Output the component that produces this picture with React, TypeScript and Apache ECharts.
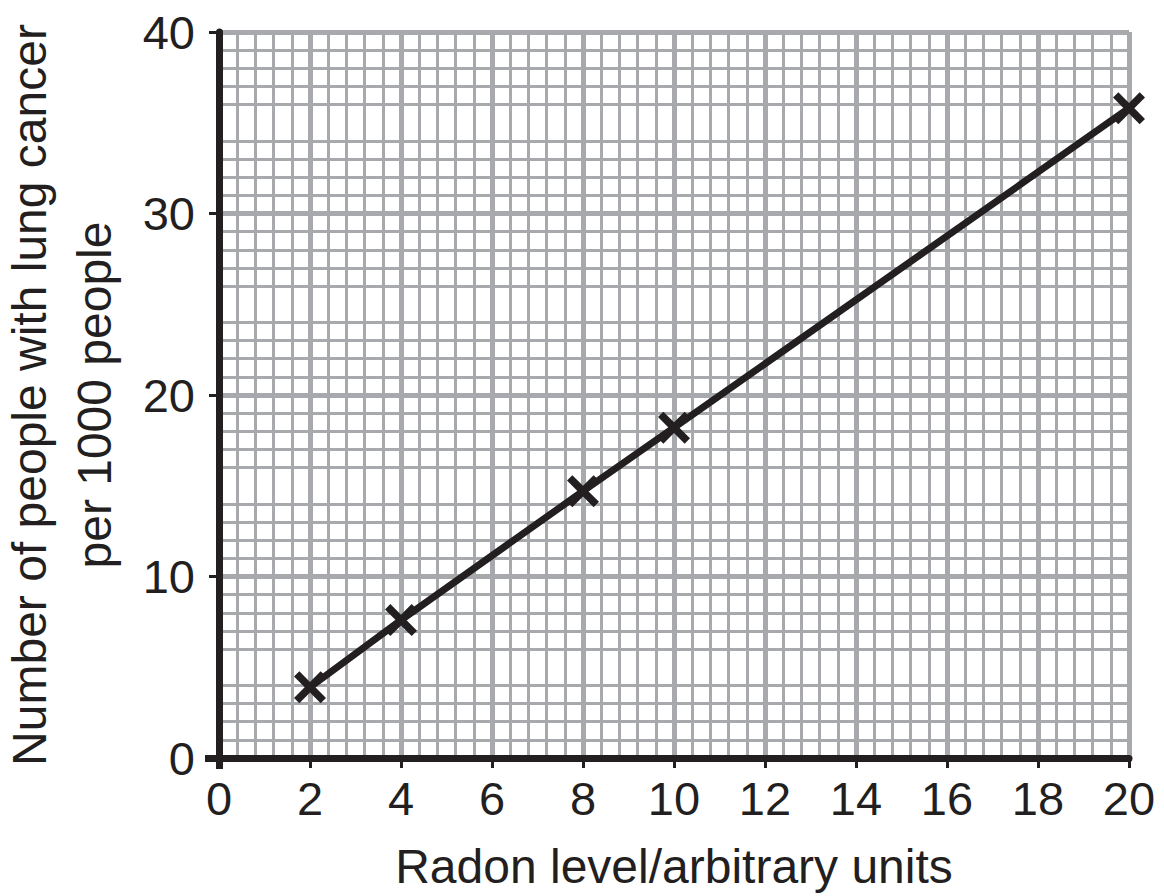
import React, { useEffect, useRef } from "react";
import * as echarts from "echarts";

const radonLevels = [2, 4, 8, 10, 20];
const lungCancerCases = [3.9, 7.6, 14.7, 18.2, 35.8];
const yTickLabels = [0, 10, 20, 30, 40];
const xTitle = "Radon level/arbitrary units";
const yTitle = "Number of people with lung cancer\nper 1000 people";

const INK = "#231f20";
const GRAY = "#a7a9ac";
const FONT = "'Liberation Sans', Arial, Helvetica, sans-serif";

export default function App() {
  const ref = useRef<HTMLDivElement>(null);
  useEffect(() => {
    document.body.style.margin = "0";
    const chart = echarts.init(ref.current!, undefined, { renderer: "svg" });
    const crossPath =
      "path://M4,0 L12,8 L20,0 L24,4 L16,12 L24,20 L20,24 L12,16 L4,24 L0,20 L8,12 L0,4 Z";
    chart.setOption({
      animation: false,
      backgroundColor: "#ffffff",
      grid: { left: 219, right: 35, top: 32, bottom: 138, containLabel: false, outerBoundsMode: "none" },
      xAxis: [
        {
          type: "value",
          min: 0,
          max: 20,
          interval: 2,
          name: xTitle,
          nameLocation: "middle",
          nameGap: 84,
          nameTextStyle: { fontFamily: FONT, fontSize: 48, color: INK },
          axisLine: { show: true, lineStyle: { color: INK, width: 7 } },
          axisTick: { show: true, length: 10, lineStyle: { color: INK, width: 3 } },
          axisLabel: { margin: 17, fontFamily: FONT, fontSize: 47, color: INK },
          splitLine: { show: true, lineStyle: { color: GRAY, width: 5 } },
          minorTick: { show: false, splitNumber: 5 },
          minorSplitLine: { show: true, lineStyle: { color: GRAY, width: 3 } },
          z: 3,
        },
        {
          type: "value",
          min: 0,
          max: 20,
          position: "bottom",
          axisLine: { show: false },
          axisTick: { show: true, length: 11, customValues: [0], lineStyle: { color: INK, width: 7 } },
          axisLabel: { show: false },
          splitLine: { show: false },
        },
      ],
      yAxis: [
        {
          type: "value",
          min: 0,
          max: 40,
          interval: 5,
          name: yTitle,
          nameLocation: "middle",
          nameRotate: 90,
          nameGap: 92,
          nameTextStyle: { fontFamily: FONT, fontSize: 48, color: INK, lineHeight: 65 },
          axisLine: { show: true, lineStyle: { color: INK, width: 7 } },
          axisTick: { show: true, length: 10, customValues: yTickLabels, lineStyle: { color: INK, width: 3 } },
          axisLabel: { margin: 24, customValues: yTickLabels, fontFamily: FONT, fontSize: 47, color: INK },
          splitLine: { show: true, lineStyle: { color: GRAY, width: 5 } },
          minorTick: { show: false, splitNumber: 5 },
          minorSplitLine: { show: true, lineStyle: { color: GRAY, width: 3 } },
          z: 3,
        },
        {
          type: "value",
          min: 0,
          max: 40,
          position: "left",
          axisLine: { show: false },
          axisTick: { show: true, length: 14, customValues: [0], lineStyle: { color: INK, width: 7 } },
          axisLabel: { show: false },
          splitLine: { show: false },
        },
      ],
      series: [
        {
          type: "line",
          data: radonLevels.map((x, i) => [x, lungCancerCases[i]]),
          lineStyle: { color: INK, width: 7 },
          itemStyle: { color: INK },
          symbol: crossPath,
          symbolSize: 32,
          showSymbol: true,
          z: 5,
        },
      ],
    });
    return () => chart.dispose();
  }, []);
  return <div ref={ref} style={{ width: 1164, height: 896 }} />;
}
